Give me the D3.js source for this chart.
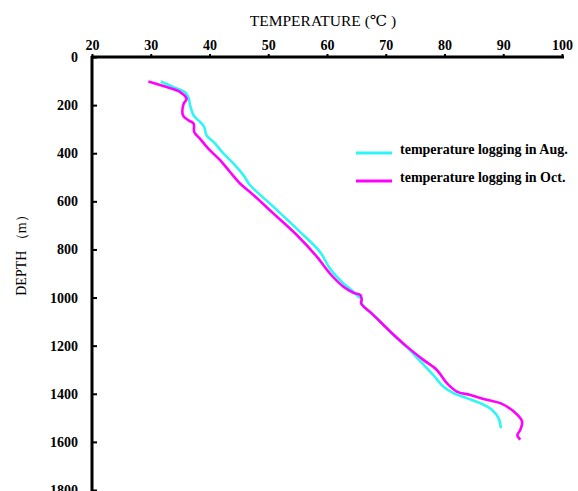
<!DOCTYPE html>
<html>
<head>
<meta charset="utf-8">
<script src="https://cdn.jsdelivr.net/npm/d3@7"></script>
<style>
    body { margin: 0; background: #fff; }
    svg { display: block; font-family: "Liberation Serif", "DejaVu Serif", serif; }
    .tick text { font-weight: bold; font-size: 14px; font-family: "Liberation Serif", serif; }
</style>
</head>
<body>
<svg class="svg-canvas" width="578" height="491"></svg>
<script>
//Temperature logging in August: temperature (C) and depth (m)
var augTemp  = [31.7, 33.9, 35.8, 36.4, 36.7, 37.3, 38.4, 39.1, 39.5, 40.7, 42.4, 44.1, 45.8, 46.9, 50.9, 55.4, 58.8, 60.5, 62.8, 64.5, 65.4, 65.9, 65.9, 68.5, 71.3, 74.1, 76.2, 78.1, 79.8, 81.6, 83.8, 86.1, 88.1, 89.2, 89.6];
var augDepth = [102, 125, 146, 167, 201, 243, 270, 291, 326, 353, 402, 443, 492, 533, 623, 727, 810, 879, 941, 976, 997, 1003, 1024, 1086, 1156, 1218, 1273, 1322, 1370, 1398, 1418, 1439, 1467, 1501, 1543];

//Temperature logging in October
var octTemp  = [29.6, 32.7, 35.0, 36.1, 35.6, 35.5, 36.4, 37.3, 37.4, 38.4, 39.8, 41.8, 43.5, 45.2, 47.2, 50.9, 54.9, 58.3, 60.5, 62.8, 64.5, 65.7, 65.9, 65.8, 67.9, 70.8, 73.6, 76.4, 78.7, 80.4, 82.1, 84.4, 87.2, 89.5, 91.8, 93.2, 92.9, 92.4, 92.9];
var octDepth = [102, 125, 146, 174, 194, 243, 263, 277, 312, 340, 381, 429, 478, 526, 568, 651, 741, 831, 900, 955, 980, 990, 1010, 1024, 1073, 1142, 1204, 1259, 1301, 1356, 1391, 1405, 1425, 1439, 1474, 1515, 1550, 1571, 1591];

//Axis ticks
var tempTicks = [20, 30, 40, 50, 60, 70, 80, 90, 100];
var depthTicks = [0, 200, 400, 600, 800, 1000, 1200, 1400, 1600, 1800];

//Series names and colours
var seriesNames = ["temperature logging in Aug.", "temperature logging in Oct."];
var seriesColors = ["#2ef6f6", "#ff00ff"];

(function(){
    var svg = d3.select(".svg-canvas");

    //Scales: temperature along the top, depth going down
    var x = d3.scaleLinear().domain([20, 100]).range([92, 562]);
    var y = d3.scaleLinear().domain([0, 1800]).range([57, 490]);

    //Top axis
    var xAxis = svg.append("g")
        .attr("transform", "translate(0," + y(0) + ")")
        .call(d3.axisTop(x).tickValues(tempTicks).tickSize(3).tickPadding(4).tickFormat(d3.format("d")));
    xAxis.attr("font-family", null);
    xAxis.select(".domain").attr("d", "M" + (x(20) - 1) + ",0H" + (x(100) + 2))
        .attr("stroke-width", 3);
    xAxis.selectAll(".tick line").attr("stroke-width", 2);
    xAxis.selectAll(".tick text").attr("fill", "#000");

    //Left axis, ticks point inward
    var yAxis = svg.append("g")
        .attr("transform", "translate(" + x(20) + ",0)")
        .call(d3.axisLeft(y).tickValues(depthTicks).tickSize(-5).tickPadding(14).tickFormat(d3.format("d")));
    yAxis.attr("font-family", null);
    yAxis.select(".domain").attr("d", "M0," + (y(0) - 1) + "V" + 491)
        .attr("stroke-width", 3);
    yAxis.selectAll(".tick line").attr("stroke-width", 2);
    yAxis.selectAll(".tick text").attr("fill", "#000");

    //Axis titles
    svg.append("text")
        .attr("x", 323)
        .attr("y", 26)
        .attr("text-anchor", "middle")
        .style("font-size", "15.5px")
        .text("TEMPERATURE (℃ )");

    svg.append("text")
        .attr("transform", "translate(26,252) rotate(-90)")
        .attr("text-anchor", "middle")
        .style("font-size", "14px")
        .text("DEPTH （m）");

    //Lines
    var line = d3.line()
        .x(function(d){ return x(d[0]); })
        .y(function(d){ return y(d[1]); })
        .curve(d3.curveCatmullRom);

    var series = [d3.zip(augTemp, augDepth), d3.zip(octTemp, octDepth)];
    series.forEach(function(pts, i){
        svg.append("path")
            .datum(pts)
            .attr("fill", "none")
            .attr("stroke", seriesColors[i])
            .attr("stroke-width", 2.6)
            .attr("stroke-linejoin", "round")
            .attr("d", line);
    });

    //Legend
    seriesNames.forEach(function(name, i){
        var ly = 153 + i * 28;
        svg.append("line")
            .attr("x1", 356).attr("x2", 392)
            .attr("y1", ly).attr("y2", ly)
            .attr("stroke", seriesColors[i])
            .attr("stroke-width", 3);
        svg.append("text")
            .attr("x", 400)
            .attr("y", ly + 1)
            .style("font-size", "14px")
            .style("font-weight", "bold")
            .text(name);
    });
})();
</script>
</body>
</html>
